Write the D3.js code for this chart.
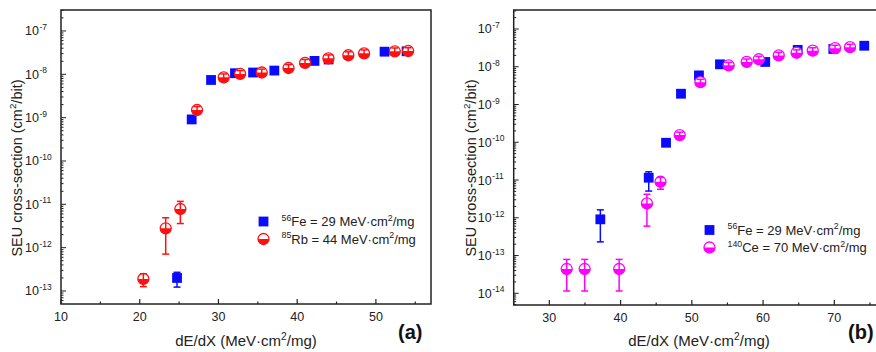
<!DOCTYPE html>
<html><head><meta charset="utf-8">
<script src="https://cdn.jsdelivr.net/npm/d3@7"></script>
<style>body{margin:0;background:#fff}svg{display:block}text{font-family:"Liberation Sans",Arial,sans-serif}</style>
</head><body>
<svg id="c" width="876" height="352"></svg>
<script>
// ---- Panel (a) data ----
const xFeA  = [24.74, 26.6, 29.06, 32.1, 34.4, 37.1, 42.2, 44.0, 51.1, 53.9];
const yFeA  = [2.0e-13, 9.1e-10, 7.4e-9, 1.06e-8, 1.1e-8, 1.22e-8, 2.04e-8, 2.2e-8, 3.33e-8, 3.4e-8];
const loFeA = [1.23e-13, null, null, null, null, null, null, null, null, null];
const hiFeA = [2.7e-13, null, null, null, null, null, null, null, null, null];

const xRbA  = [20.46, 23.3, 25.16, 27.28, 30.67, 32.75, 35.5, 38.9, 41.0, 43.97, 46.5, 48.5, 52.4, 54.1];
const yRbA  = [1.9e-13, 2.8e-12, 7.8e-12, 1.5e-9, 8.5e-9, 1.02e-8, 1.1e-8, 1.4e-8, 1.83e-8, 2.34e-8, 2.75e-8, 3.05e-8, 3.4e-8, 3.45e-8];
const loRbA = [1.26e-13, 7.1e-13, 3.6e-12, 1.25e-9, 7.1e-9, 8.5e-9, 9.2e-9, 1.17e-8, 1.53e-8, 1.95e-8, 2.3e-8, 2.55e-8, 2.85e-8, 2.9e-8];
const hiRbA = [2.5e-13, 4.9e-12, 1.17e-11, 1.8e-9, 1.02e-8, 1.22e-8, 1.32e-8, 1.68e-8, 2.2e-8, 2.8e-8, 3.3e-8, 3.65e-8, 4.05e-8, 4.1e-8];

// ---- Panel (b) data ----
const xFeB  = [37.16, 43.95, 46.38, 48.48, 51.0, 53.95, 60.3, 64.86, 69.86, 74.2];
const yFeB  = [9.1e-13, 1.15e-11, 9.7e-11, 1.93e-9, 5.9e-9, 1.16e-8, 1.34e-8, 2.8e-8, 2.95e-8, 3.6e-8];
const loFeB = [2.3e-13, 5.1e-12, null, null, null, null, null, null, null, null];
const hiFeB = [1.62e-12, 1.65e-11, null, null, null, null, null, null, null, null];

const xCeB  = [32.44, 34.96, 39.8, 43.7, 45.6, 48.3, 51.2, 55.17, 57.7, 59.4, 62.2, 64.7, 66.97, 70.1, 72.2];
const yCeB  = [4.4e-14, 4.4e-14, 4.4e-14, 2.4e-12, 9.0e-12, 1.55e-10, 3.9e-9, 1.09e-8, 1.34e-8, 1.58e-8, 2.0e-8, 2.35e-8, 2.66e-8, 3.1e-8, 3.3e-8];
const loCeB = [1.15e-14, 1.15e-14, 1.15e-14, 6.0e-13, 5.7e-12, 1.3e-10, 3.3e-9, 9.1e-9, 1.12e-8, 1.32e-8, 1.67e-8, 1.96e-8, 2.22e-8, 2.6e-8, 2.75e-8];
const hiCeB = [7.9e-14, 7.9e-14, 7.9e-14, 4.2e-12, 1.17e-11, 1.85e-10, 4.65e-9, 1.3e-8, 1.6e-8, 1.88e-8, 2.4e-8, 2.8e-8, 3.18e-8, 3.7e-8, 3.95e-8];

const xTicksA = [10, 20, 30, 40, 50];
const xTicksB = [30, 40, 50, 60, 70];
const yExpA = [-7, -8, -9, -10, -11, -12, -13];
const yExpB = [-7, -8, -9, -10, -11, -12, -13, -14];
const legendA = [{ion:"56", el:"Fe", val:"29", kind:"sq"}, {ion:"85", el:"Rb", val:"44", kind:"ci"}];
const legendB = [{ion:"56", el:"Fe", val:"29", kind:"sq"}, {ion:"140", el:"Ce", val:"70", kind:"ci"}];
const xLabel = "dE/dX (MeV·cm";
const yLabel = "SEU cross-section (cm";

const BLUE = "#0a0aff", RED = "#ff1010", MAG = "#ff00ff", AX = "#222";
const R0 = 5.5;
const svg = d3.select("#c");

function supText(g, x, y, parts, size, anchor) {
  const t = g.append("text").attr("x", x).attr("y", y).attr("font-size", size).attr("fill", "#222");
  if (anchor) t.attr("text-anchor", anchor);
  let prevSup = false;
  parts.forEach(([s, sup]) => {
    const ts = t.append("tspan").text(s);
    if (sup) ts.attr("dy", -size * 0.42).attr("font-size", size * 0.68);
    else ts.attr("dy", prevSup ? size * 0.42 : 0);
    prevSup = sup;
  });
  return t;
}

function marker(g, kind, cx, cy, col) {
  if (kind === "sq") {
    g.append("rect").attr("x", cx - 4.9).attr("y", cy - 4.9).attr("width", 9.8).attr("height", 9.8).attr("fill", col);
  } else {
    g.append("circle").attr("cx", cx).attr("cy", cy).attr("r", R0).attr("fill", "#fff").attr("stroke", col).attr("stroke-width", 1.3);
    g.append("path").attr("d", `M${cx - R0},${cy} A${R0},${R0} 0 0 0 ${cx + R0},${cy} Z`).attr("fill", col);
  }
}

function panel(cfg) {
  const x = d3.scaleLinear().domain(cfg.xd).range(cfg.xr);
  const y = d3.scaleLog().domain(cfg.yd).range(cfg.yr);
  const g = svg.append("g");
  const [L, R] = cfg.xr, [B, T] = cfg.yr;
  const ymin = Math.floor(Math.log10(cfg.yd[0])), ymax = Math.ceil(Math.log10(cfg.yd[1]));
  for (let e = ymin; e <= ymax; e++) {
    for (let m = 1; m < 10; m++) {
      const v = m * Math.pow(10, e);
      if (v < cfg.yd[0] || v > cfg.yd[1]) continue;
      const yy = y(v), len = m === 1 ? 5 : 2.5;
      g.append("line").attr("x1", L).attr("x2", L + len).attr("y1", yy).attr("y2", yy).attr("stroke", AX).attr("stroke-width", 1);
    }
  }
  for (let v = Math.ceil(cfg.xd[0] / 5) * 5; v <= cfg.xd[1]; v += 5) {
    const xx = x(v), major = v % 10 === 0;
    g.append("line").attr("x1", xx).attr("x2", xx).attr("y1", B).attr("y2", B - (major ? 5 : 2.5)).attr("stroke", AX).attr("stroke-width", 1.2);
  }
  cfg.xticks.forEach(v => g.append("text").attr("x", x(v)).attr("y", B + 17).attr("text-anchor", "middle").attr("font-size", 12.5).attr("fill", "#222").text(v));
  cfg.yexp.forEach(e => {
    const yy = y(Math.pow(10, e));
    g.append("text").attr("x", L - 22).attr("y", yy + 4.5).attr("text-anchor", "end").attr("font-size", 12.5).attr("fill", "#222").text("10");
    g.append("text").attr("x", L - 21.5).attr("y", yy - 1).attr("font-size", 8.5).attr("fill", "#222").text(String(e));
  });
  g.append("rect").attr("x", L).attr("y", T).attr("width", R - L).attr("height", B - T).attr("fill", "none").attr("stroke", AX).attr("stroke-width", 1.5);
  supText(g, cfg.xlabX, 346, [[xLabel, false], ["2", true], ["/mg)", false]], 15, "middle");
  const yl = g.append("g").attr("transform", `translate(${cfg.ylabX},${cfg.ylabY}) rotate(-90)`);
  supText(yl, 0, 0, [[yLabel, false], ["2", true], ["/bit)", false]], 14.5, "middle");
  g.append("text").attr("x", cfg.letX).attr("y", 339).attr("font-size", 20).attr("font-weight", "bold").attr("fill", "#111").text(cfg.letter);

  const pg = g.append("g");
  cfg.series.forEach(([xs, ys, lo, hi, kind, col]) => {
    xs.forEach((xv, i) => {
      const cx = x(xv), cy = y(ys[i]);
      marker(pg, kind, cx, cy, col);
      if (lo[i] != null && hi[i] != null) {
        const y1 = y(hi[i]), y2 = y(lo[i]);
        pg.append("line").attr("x1", cx).attr("x2", cx).attr("y1", y1).attr("y2", y2).attr("stroke", col).attr("stroke-width", 1.5);
        [y1, y2].forEach(yy => pg.append("line").attr("x1", cx - 3.5).attr("x2", cx + 3.5).attr("y1", yy).attr("y2", yy).attr("stroke", col).attr("stroke-width", 1.5));
      }
    });
  });
  cfg.legend.forEach((d, i) => {
    const ly = cfg.legY + i * 17.5, lx = cfg.legX;
    const col = i === 0 ? BLUE : cfg.col2;
    marker(g, d.kind, lx, ly, col);
    supText(g, lx + 18, ly + 4.5, [[d.ion, true], [d.el + " = " + d.val + " MeV·cm", false], ["2", true], ["/mg", false]], 13, null);
  });
}

panel({
  xd: [10, 57], xr: [61, 431], yd: [Math.pow(10, -13.3), Math.pow(10, -6.516)], yr: [304, 10],
  xticks: xTicksA, yexp: yExpA, xlabX: 246, ylabX: 22, ylabY: 168, letX: 398, letter: "(a)",
  series: [[xFeA, yFeA, loFeA, hiFeA, "sq", BLUE], [xRbA, yRbA, loRbA, hiRbA, "ci", RED]],
  legend: legendA, legX: 263.5, legY: 221.5, col2: RED
});
panel({
  xd: [25, 77], xr: [513.7, 884.2], yd: [Math.pow(10, -14.31), Math.pow(10, -6.497)], yr: [305, 10],
  xticks: xTicksB, yexp: yExpB, xlabX: 699, ylabX: 476, ylabY: 168, letX: 848, letter: "(b)",
  series: [[xFeB, yFeB, loFeB, hiFeB, "sq", BLUE], [xCeB, yCeB, loCeB, hiCeB, "ci", MAG]],
  legend: legendB, legX: 709.5, legY: 230, col2: MAG
});
</script>
</body></html>
